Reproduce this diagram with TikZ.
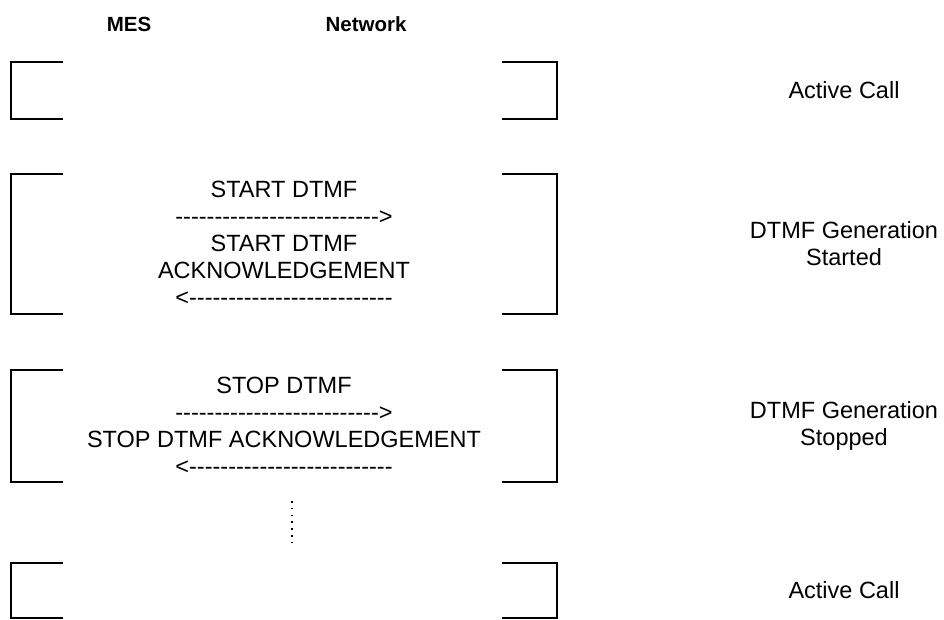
\documentclass[tikz,border=0pt]{standalone}
\usepackage{fontspec}
\setmainfont{Liberation Sans}[Ligatures=TeXOff]
\usetikzlibrary{positioning}

\begin{document}
\begin{tikzpicture}[x=1pt, y=-1pt, line width=1.6pt,
    msg/.style={font=\fontsize{23.5}{27}\selectfont, align=center, inner sep=0pt},
    head/.style={msg, font=\fontsize{20.5}{24}\selectfont\bfseries},
    dots/.style={line width=1.6pt, dash pattern=on 1.6pt off 5.2pt}]
  \useasboundingbox (0,0) rectangle (944,619);

  % column titles
  \node[head] (mes) at (129,24) {MES};
  \node[head] (net) at (366,24) {Network};

  % phase brackets
  \foreach \ya/\yb in {62/119, 174/314, 370/482, 563/618}{
    \draw (63,\ya) -| (11,\yb) -- (63,\yb);
    \draw (502,\ya) -| (557,\yb) -- (502,\yb);
  }

  % messages
  \node[msg] (start) at (284,243) {START DTMF\\-------------------------->\\START DTMF\\ACKNOWLEDGEMENT\\<--------------------------};
  \node[msg] (stop) at (284,426) {STOP DTMF\\-------------------------->\\STOP DTMF ACKNOWLEDGEMENT\\<--------------------------};

  % states
  \node[msg] (call1)   at (844,90.5) {Active Call};
  \node[msg] (started) at (844,244)  {DTMF Generation\\Started};
  \node[msg] (stopped) at (844,426)  {DTMF Generation\\Stopped};
  \node[msg] (call2)   at (844,590.5) {Active Call};

  % more to come
  \coordinate (more)    at (292,501);
  \coordinate (moreend) at (292,544);
  \draw[dots] (more) -- (moreend);
\end{tikzpicture}
\end{document}
